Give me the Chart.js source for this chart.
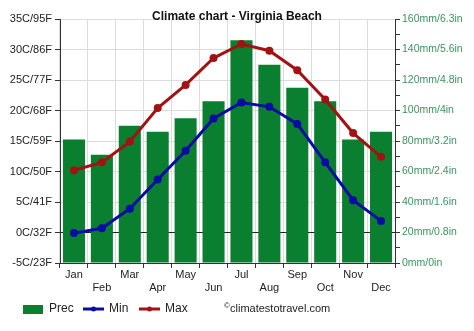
<!DOCTYPE html>
<html>
<head>
<meta charset="utf-8">
<script src="https://cdn.jsdelivr.net/npm/chart.js@4/dist/chart.umd.min.js"></script>
<style>
  html, body { margin: 0; padding: 0; background: #fff; }
  #wrap { width: 474px; height: 331px; }
</style>
</head>
<body>
<div id="wrap"><canvas id="climateChart" width="474" height="331"></canvas></div>
<script>
const months = ['Jan', 'Feb', 'Mar', 'Apr', 'May', 'Jun', 'Jul', 'Aug', 'Sep', 'Oct', 'Nov', 'Dec'];
const precMm = [81, 71, 90, 86, 95, 106, 146, 130, 115, 106, 81, 86];
const minC = [-0.1, 0.7, 3.9, 8.7, 13.4, 18.7, 21.3, 20.6, 17.8, 11.5, 5.3, 1.9];
const maxC = [10.2, 11.5, 14.9, 20.4, 24.2, 28.6, 30.9, 29.8, 26.6, 21.8, 16.3, 12.4];
const tempTicks = ['-5C/23F', '0C/32F', '5C/41F', '10C/50F', '15C/59F', '20C/68F', '25C/77F', '30C/86F', '35C/95F'];
const precTicks = ['0mm/0in', '20mm/0.8in', '40mm/1.6in', '60mm/2.4in', '80mm/3.2in', '100mm/4in', '120mm/4.8in', '140mm/5.6in', '160mm/6.3in'];

const green = '#0a7f2f';
const red = '#a31212';
const blue = '#0a0aa5';
const font = "'Liberation Sans', Arial, sans-serif";

// title, legend and copyright drawn by hand
const extras = {
  id: 'extras',
  afterDraw(chart) {
    const c = chart.ctx;
    c.save();
    c.fillStyle = '#111';
    c.font = 'bold 12px ' + font;
    c.textAlign = 'center';
    c.textBaseline = 'middle';
    c.fillText('Climate chart - Virginia Beach', 237, 17);

    const y = 309;
    c.font = '12px ' + font;
    c.textAlign = 'left';
    c.fillStyle = green;
    c.fillRect(23, y - 4, 20, 9);
    c.fillStyle = '#222';
    c.fillText('Prec', 49, y);

    [[blue, 83, 'Min'], [red, 139, 'Max']].forEach(([col, x, txt]) => {
      c.strokeStyle = col;
      c.lineWidth = 3;
      c.beginPath(); c.moveTo(x, y); c.lineTo(x + 21, y); c.stroke();
      c.fillStyle = col;
      c.beginPath(); c.arc(x + 10.5, y, 2.5, 0, Math.PI * 2); c.fill();
      c.fillStyle = '#222';
      c.fillText(txt, x + 26, y);
    });

    c.fillStyle = '#222';
    c.font = '8px ' + font;
    c.fillText('©', 224, y - 3);
    c.font = '11px ' + font;
    c.fillText('climatestotravel.com', 230, y);
    c.restore();
  }
};

new Chart(document.getElementById('climateChart'), {
  type: 'bar',
  data: {
    labels: months,
    datasets: [
      {
        type: 'line', label: 'Max', data: maxC, yAxisID: 'y',
        borderColor: red, backgroundColor: red, borderWidth: 3,
        pointRadius: 4, pointBackgroundColor: red, pointBorderWidth: 0, tension: 0, order: 1
      },
      {
        type: 'line', label: 'Min', data: minC, yAxisID: 'y',
        borderColor: blue, backgroundColor: blue, borderWidth: 3,
        pointRadius: 4, pointBackgroundColor: blue, pointBorderWidth: 0, tension: 0, order: 2
      },
      {
        type: 'bar', label: 'Prec', data: precMm, yAxisID: 'y1',
        backgroundColor: green, barPercentage: 0.79, categoryPercentage: 1, order: 3
      }
    ]
  },
  options: {
    responsive: false,
    animation: false,
    layout: { padding: { top: 19, left: 0, right: 0, bottom: 0 } },
    plugins: { legend: { display: false }, title: { display: false }, tooltip: { enabled: false } },
    scales: {
      x: {
        offset: true,
        grid: { offset: true, color: '#dcdcdc', tickColor: '#333', tickLength: 5, drawTicks: true },
        border: { color: '#333', width: 1 },
        ticks: {
          color: '#222', font: { family: font, size: 11 }, padding: 0, maxRotation: 0, autoSkip: false,
          callback: (v, i) => i % 2 === 0 ? months[i] : ['', months[i]]
        },
        afterFit: s => { s.height = 68; }
      },
      y: {
        position: 'left', min: -5, max: 35,
        grid: {
          color: ctx => ctx.tick && ctx.tick.value === 0 ? '#222' : '#dcdcdc',
          tickColor: '#333', tickLength: 5
        },
        border: { color: '#333', width: 1 },
        ticks: {
          stepSize: 5, color: '#222', font: { family: font, size: 11 }, padding: 3,
          callback: v => tempTicks[(v + 5) / 5]
        },
        afterFit: s => { s.width = 60; }
      },
      y1: {
        position: 'right', min: 0, max: 160,
        grid: { drawOnChartArea: false, tickColor: '#333', tickLength: 5 },
        border: { color: '#333', width: 1 },
        ticks: {
          stepSize: 10, color: '#3a9460', font: { family: font, size: 10.5 }, padding: 2, autoSkip: false,
          callback: v => v % 20 === 0 ? precTicks[v / 20] : ''
        },
        afterFit: s => { s.width = 79; }
      }
    }
  },
  plugins: [extras]
});
</script>
</body>
</html>
